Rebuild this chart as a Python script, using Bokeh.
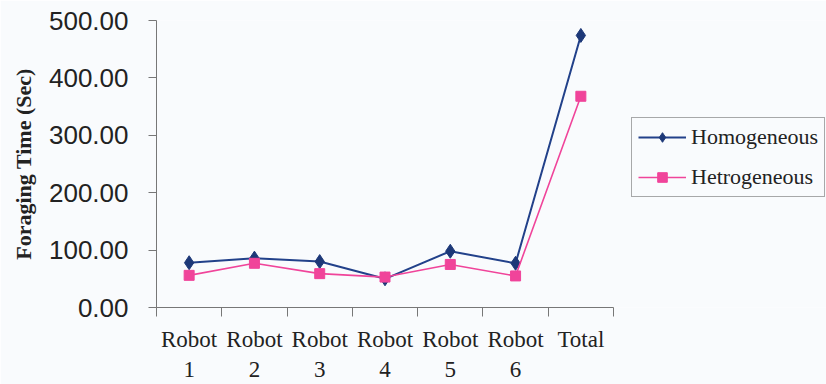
from bokeh.plotting import figure
from bokeh.models import FixedTicker, Legend, LegendItem, Range1d
from bokeh.embed import file_html
from bokeh.resources import INLINE

# Foraging time per robot and in total, for the two team types
categories = ["Robot\n1", "Robot\n2", "Robot\n3", "Robot\n4", "Robot\n5", "Robot\n6", "Total"]
homogeneous = [78, 86, 80, 50, 98, 77, 474]
hetrogeneous = [56, 77, 59, 53, 75, 55, 368]
y_ticks = [0, 100, 200, 300, 400, 500]

xs = [i + 0.5 for i in range(len(categories))]
n = len(categories)

BLUE = "#22418a"
PINK = "#f0449a"
BG = "#f9fbfd"

# canvas layout (pixels): the category axis takes AXIS_W of the frame,
# the rest of the frame to its right holds the legend
W, H = 826, 384
LEFT = 156
AXIS_W = 457
FRAME_W = W - LEFT
x_end = n * FRAME_W / AXIS_W

p = figure(width=W, height=H, output_backend="svg", toolbar_location=None,
           x_range=Range1d(0, x_end), y_range=Range1d(0, 500),
           min_border_left=LEFT, min_border_right=0, min_border_top=20, min_border_bottom=75,
           background_fill_color=BG, border_fill_color=BG)
p.outline_line_color = None
p.grid.visible = False

# x axis: labels at category centres, tick marks on the category boundaries
p.xaxis.bounds = (0, n)
p.xaxis.ticker = FixedTicker(ticks=xs, minor_ticks=list(range(n + 1)))
p.xaxis.major_label_overrides = {x: c for x, c in zip(xs, categories)}
p.xaxis.major_tick_out = 0
p.xaxis.major_tick_in = 0
p.xaxis.minor_tick_out = 9
p.xaxis.minor_tick_in = 0
p.xaxis.minor_tick_line_color = "#777777"
p.xaxis.axis_line_color = "#777777"
p.xaxis.major_label_text_font = "Liberation Serif"
p.xaxis.major_label_text_font_size = "23px"
p.xaxis.major_label_text_color = "#222222"
p.xaxis.major_label_standoff = 10

# y axis
p.yaxis.ticker = FixedTicker(ticks=y_ticks)
p.yaxis.major_label_overrides = {t: f"{t:.2f}" for t in y_ticks}
p.yaxis.minor_tick_line_color = None
p.yaxis.major_tick_out = 8
p.yaxis.major_tick_in = 0
p.yaxis.major_tick_line_color = "#777777"
p.yaxis.axis_line_color = "#777777"
p.yaxis.major_label_text_font = "Liberation Sans"
p.yaxis.major_label_text_font_size = "26px"
p.yaxis.major_label_text_color = "#222222"
p.yaxis.major_label_standoff = 20
p.yaxis.axis_label = "Foraging Time (Sec)"
p.yaxis.axis_label_text_font = "Liberation Serif"
p.yaxis.axis_label_text_font_style = "bold"
p.yaxis.axis_label_text_font_size = "22px"
p.yaxis.axis_label_text_color = "#222222"
p.yaxis.axis_label_standoff = 10

l1 = p.line(xs, homogeneous, line_color=BLUE, line_width=2)
s1 = p.scatter(xs, homogeneous, marker="diamond", size=14,
               fill_color="#1d3878", line_color="#1d3878")
l2 = p.line(xs, hetrogeneous, line_color=PINK, line_width=1.6)
s2 = p.scatter(xs, hetrogeneous, marker="square", size=10, fill_color=PINK, line_color=PINK)

# legend to the right of the category axis
legend = Legend(items=[LegendItem(label="Homogeneous", renderers=[l1, s1]),
                       LegendItem(label="Hetrogeneous", renderers=[l2, s2])],
                location=(AXIS_W + 18, 110), orientation="vertical",
                label_text_font="Liberation Serif", label_text_font_size="22px",
                label_text_color="#222222", glyph_width=48, glyph_height=24,
                label_standoff=5, padding=6, spacing=14, margin=0,
                border_line_color="#555555", background_fill_color=BG)
p.add_layout(legend, "center")

open("out.html", "w").write(file_html(p, INLINE))
